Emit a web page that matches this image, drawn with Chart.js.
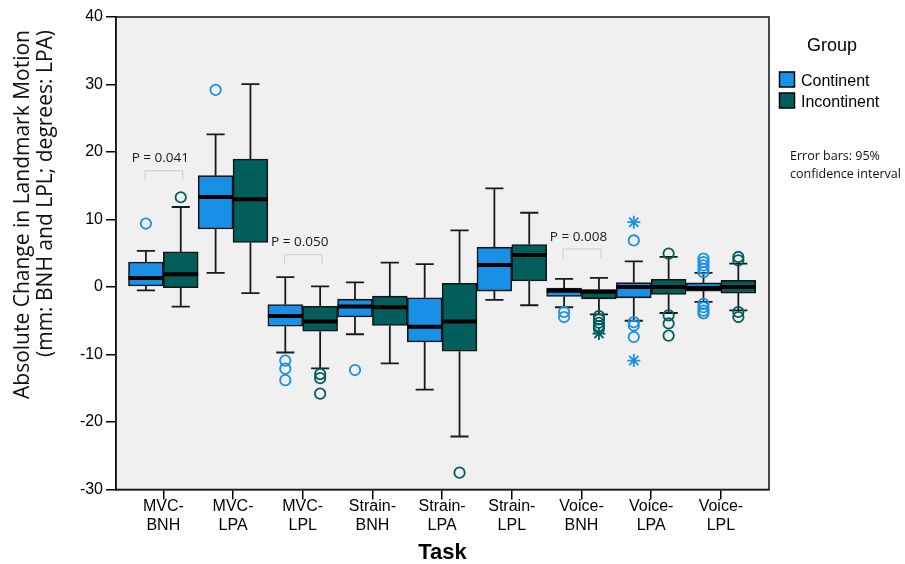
<!DOCTYPE html>
<html><head><meta charset="utf-8">
<script src="https://cdn.jsdelivr.net/npm/chart.js@4"></script>
<style>html,body{margin:0;padding:0;background:#fff}</style>
</head><body>
<canvas id="c" width="905" height="564" style="width:905px;height:564px;display:block"></canvas>
<script>
// ---------- data ----------
const categories = [['MVC-','BNH'],['MVC-','LPA'],['MVC-','LPL'],['Strain-','BNH'],['Strain-','LPA'],['Strain-','LPL'],['Voice-','BNH'],['Voice-','LPA'],['Voice-','LPL']];
const groupNames = ['Continent','Incontinent'];
const yTickValues = [-30,-20,-10,0,10,20,30,40];

const continentLow    = [-0.5,  2.1,  -9.7,  -7.0, -15.2, -1.9, -3.0, -5.0, -2.2];
const continentQ1     = [0.15,  8.6,  -5.8,  -4.45, -8.15, -0.6, -1.4, -1.6, -0.6];
const continentMedian = [1.35, 13.35, -4.3,  -2.9,  -5.9,  3.25, -0.55, 0.0, -0.15];
const continentQ3     = [3.7,  16.5,  -2.6,  -1.8,  -1.6,  5.9, -0.15, 0.65, 0.6];
const continentHigh   = [5.35, 22.6,   1.45,  0.7,   3.4, 14.6,  1.2,  3.8,  2.1];

const incontinentLow    = [-2.9, -0.9, -12.05, -11.3, -22.15, -2.7, -4.05, -3.85, -3.45];
const incontinentQ1     = [-0.1,  6.6,  -6.55,  -5.7,  -9.5,   0.9, -1.75, -1.1,  -0.9];
const incontinentMedian = [1.9,  13.0,  -5.1,   -3.0,  -5.1,   4.75, -0.7,  0.0,   0.0];
const incontinentQ3     = [5.2,  18.95, -2.85,  -1.35,  0.55,  6.3, -0.4,   1.15,  1.0];
const incontinentHigh   = [11.85, 30.05, 0.1,    3.6,   8.4,  11.0,  1.35,  4.45,  3.45];

// [category number, value]
const continentOutliers = [[1,9.4],[2,29.2],[3,-10.9],[3,-12.1],[3,-13.8],[4,-12.3],[7,-3.7],[7,-4.45],
  [8,6.9],[8,-5.2],[8,-5.7],[8,-7.4],[9,4.2],[9,3.7],[9,3.2],[9,2.7],[9,2.2],[9,-2.5],[9,-3.0],[9,-3.5],[9,-3.9]];
const continentExtremes = [[8,9.6],[8,-10.9]];
const incontinentOutliers = [[1,13.3],[3,-12.9],[3,-13.5],[3,-15.8],[5,-27.5],[7,-4.3],[7,-4.8],[7,-5.3],[7,-5.8],[7,-6.2],
  [8,4.95],[8,-4.2],[8,-5.4],[8,-7.2],[9,4.45],[9,3.95],[9,-3.7],[9,-4.45]];
const incontinentExtremes = [[7,-6.9]];

const pLabels = ['P = 0.041','P = 0.050','P = 0.008'];
const pCategories = [1,3,7];
const pBracketTop = [17.3, 4.85, 5.7];

// ---------- styles ----------
const BLUE = '#1890e6', GREEN = '#025e5a', EDGE = '#141414';
const ARIAL = "'Liberation Sans', Arial, sans-serif";
const CAL = "'Open Sans', sans-serif";
const HALF = 0.25, CAP = 0.13;

function whiskers(off, low, q1, q3, high) {
  const pts = [];
  low.forEach((_, i) => {
    const x = i + 1 + off;
    pts.push({x, y: q3[i]}, {x, y: high[i]}, {x, y: null});
    pts.push({x: x - CAP, y: high[i]}, {x: x + CAP, y: high[i]}, {x, y: null});
    pts.push({x, y: q1[i]}, {x, y: low[i]}, {x, y: null});
    pts.push({x: x - CAP, y: low[i]}, {x: x + CAP, y: low[i]}, {x, y: null});
  });
  return pts;
}
function medians(off, med) {
  const pts = [];
  med.forEach((m, i) => {
    const x = i + 1 + off;
    pts.push({x: x - HALF, y: m}, {x: x + HALF, y: m}, {x, y: null});
  });
  return pts;
}
const pts = (arr, off) => arr.map(([c, v]) => ({x: c + off, y: v}));

const lineBase = {type: 'line', pointRadius: 0, spanGaps: false, fill: false, borderCapStyle: 'butt'};
const outlierBase = {type: 'scatter', pointBackgroundColor: 'rgba(0,0,0,0)', pointBorderWidth: 1.8, order: 1};

const bg = {
  id: 'bg',
  beforeDraw(chart) {
    const {ctx, chartArea: a} = chart;
    ctx.save();
    ctx.fillStyle = '#ffffff';
    ctx.fillRect(0, 0, chart.width, chart.height);
    ctx.fillStyle = '#f0f0f0';
    ctx.fillRect(a.left, a.top, a.right - a.left, a.bottom - a.top);
    ctx.restore();
  },
  afterDraw(chart) {
    const {ctx, chartArea: a, scales} = chart;
    ctx.save();
    ctx.strokeStyle = '#1e1e1e';
    ctx.lineWidth = 1.6;
    ctx.strokeRect(a.left, a.top, a.right - a.left, a.bottom - a.top);

    // p-value annotations
    const xs = scales.x, ys = scales.y;
    ctx.font = '13.5px ' + CAL;
    ctx.textAlign = 'center';
    ctx.textBaseline = 'alphabetic';
    pLabels.forEach((t, k) => {
      const cx = xs.getPixelForValue(pCategories[k]);
      const hw = xs.getPixelForValue(pCategories[k] + 0.27) - cx;
      const top = ys.getPixelForValue(pBracketTop[k]);
      ctx.strokeStyle = '#c4ccd6';
      ctx.lineWidth = 1;
      ctx.beginPath();
      ctx.moveTo(cx - hw + 0.5, top + 10);
      ctx.lineTo(cx - hw + 0.5, top + 0.5);
      ctx.lineTo(cx + hw + 0.5, top + 0.5);
      ctx.lineTo(cx + hw + 0.5, top + 10);
      ctx.stroke();
      ctx.fillStyle = '#1a1a1a';
      ctx.fillText(t, cx - 3, top - 8);
    });

    // y-axis title
    ctx.fillStyle = '#111';
    ctx.font = '21px ' + CAL;
    ctx.textAlign = 'right';
    ctx.textBaseline = 'middle';
    ['Absolute Change in Landmark Motion', '(mm: BNH and LPL; degrees: LPA)'].forEach((t, k) => {
      ctx.save();
      ctx.translate(23 + k * 23, 30);
      ctx.rotate(-Math.PI / 2);
      ctx.fillText(t, 0, 0);
      ctx.restore();
    });

    // legend
    ctx.textAlign = 'left';
    ctx.textBaseline = 'alphabetic';
    ctx.fillStyle = '#000';
    ctx.font = '18px ' + ARIAL;
    ctx.fillText('Group', 807, 51);
    ctx.font = '16px ' + ARIAL;
    [BLUE, GREEN].forEach((col, k) => {
      const y = 72 + k * 21;
      ctx.fillStyle = col;
      ctx.fillRect(779.5, y, 15, 15);
      ctx.strokeStyle = '#000';
      ctx.lineWidth = 1.5;
      ctx.strokeRect(779.5, y, 15, 15);
      ctx.fillStyle = '#000';
      ctx.fillText(groupNames[k], 801, y + 14);
    });
    ctx.font = '12.5px ' + CAL;
    ctx.fillStyle = '#111';
    ctx.fillText('Error bars: 95%', 790, 160);
    ctx.fillText('confidence interval', 790, 178);
    ctx.restore();
  }
};

new Chart(document.getElementById('c'), {
  type: 'bar',
  data: {
    datasets: [
      {...lineBase, label: 'med', data: medians(-HALF, continentMedian).concat(medians(HALF, incontinentMedian)), borderColor: '#000', borderWidth: 4, order: 0},
      {...outlierBase, label: 'co', data: pts(continentOutliers, -HALF), pointStyle: 'circle', pointRadius: 5.2, pointBorderColor: BLUE},
      {...outlierBase, label: 'ce', data: pts(continentExtremes, -HALF), pointStyle: 'star', pointRadius: 6.5, pointBorderColor: BLUE},
      {...outlierBase, label: 'io', data: pts(incontinentOutliers, HALF), pointStyle: 'circle', pointRadius: 5.2, pointBorderColor: GREEN},
      {...outlierBase, label: 'ie', data: pts(incontinentExtremes, HALF), pointStyle: 'star', pointRadius: 6.5, pointBorderColor: GREEN},
      {label: groupNames[0], data: categories.map((_, i) => ({x: i + 1, y: [continentQ1[i], continentQ3[i]]})),
        backgroundColor: BLUE, borderColor: EDGE, borderWidth: 1.6, borderSkipped: false, barPercentage: 1, categoryPercentage: 1, order: 2},
      {label: groupNames[1], data: categories.map((_, i) => ({x: i + 1, y: [incontinentQ1[i], incontinentQ3[i]]})),
        backgroundColor: GREEN, borderColor: EDGE, borderWidth: 1.6, borderSkipped: false, barPercentage: 1, categoryPercentage: 1, order: 2},
      {...lineBase, label: 'wc', data: whiskers(-HALF, continentLow, continentQ1, continentQ3, continentHigh), borderColor: '#1a1a1a', borderWidth: 1.8, order: 3},
      {...lineBase, label: 'wi', data: whiskers(HALF, incontinentLow, incontinentQ1, incontinentQ3, incontinentHigh), borderColor: '#1a1a1a', borderWidth: 1.8, order: 3}
    ]
  },
  options: {
    responsive: false,
    animation: false,
    devicePixelRatio: 1,
    events: [],
    layout: {padding: {top: 17, right: 136, left: 0, bottom: 0}},
    plugins: {legend: {display: false}, tooltip: {enabled: false}},
    scales: {
      x: {
        type: 'linear', min: 0.321, max: 9.69, offset: false,
        afterBuildTicks: s => { s.ticks = categories.map((_, i) => ({value: i + 1})); },
        afterFit: s => { s.height = 74.5; },
        border: {display: true, color: '#000', width: 1.6},
        grid: {offset: false, drawOnChartArea: false, drawTicks: true, tickLength: 10, color: '#000', lineWidth: 1.5},
        ticks: {autoSkip: false, maxRotation: 0, minRotation: 0, padding: -2, color: '#000',
          font: {family: ARIAL, size: 16, lineHeight: 1.15},
          callback: v => categories[Math.round(v) - 1]},
        title: {display: true, text: 'Task', color: '#000', font: {family: ARIAL, size: 22, weight: 'bold'}, padding: {top: 0, bottom: -2}}
      },
      y: {
        type: 'linear', min: -30, max: 40,
        afterBuildTicks: s => { s.ticks = yTickValues.map(v => ({value: v})); },
        afterFit: s => { s.width = 116; },
        border: {display: true, color: '#000', width: 1.6},
        grid: {drawOnChartArea: false, drawTicks: true, tickLength: 10, color: '#000', lineWidth: 1.5},
        ticks: {padding: 3, color: '#000', font: {family: ARIAL, size: 16}}
      }
    }
  },
  plugins: [bg]
});
</script>
</body></html>
